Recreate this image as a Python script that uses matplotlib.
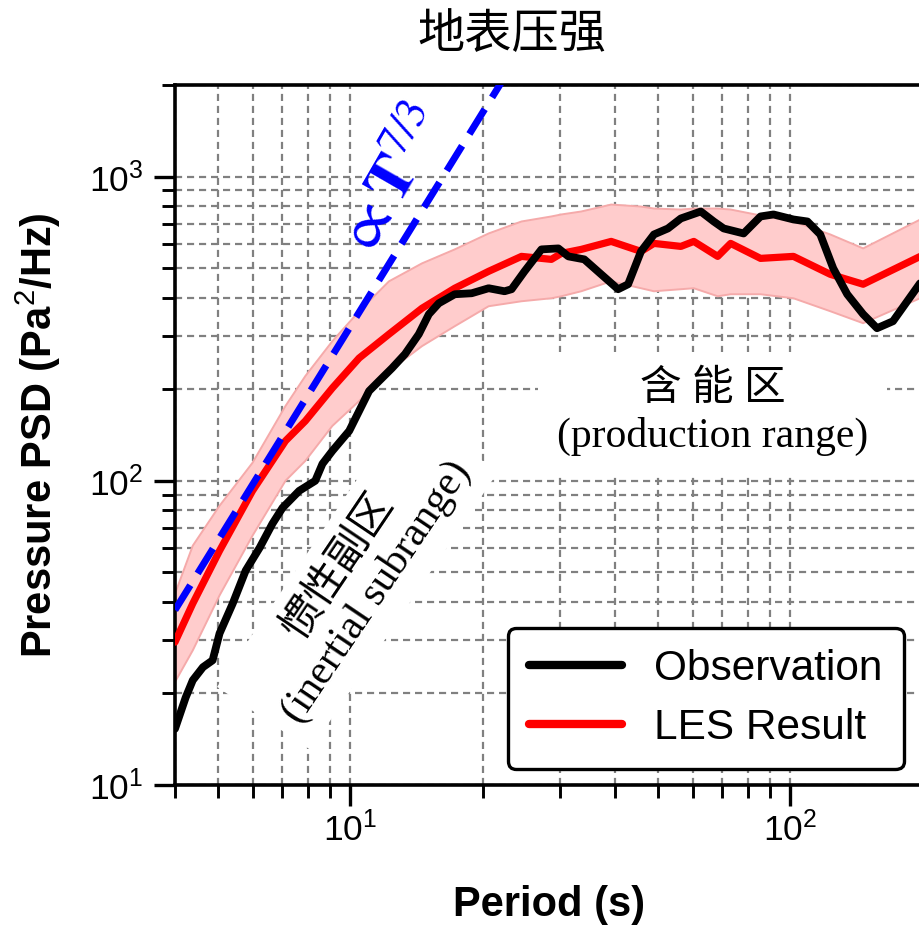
import numpy as np
import matplotlib
matplotlib.use("Agg")
import matplotlib.pyplot as plt
from matplotlib.ticker import FuncFormatter, NullFormatter, LogLocator

plt.rcParams['font.family'] = ['Liberation Sans', 'Noto Sans CJK SC', 'DejaVu Sans']
plt.rcParams['mathtext.fontset'] = 'custom'
plt.rcParams['mathtext.rm'] = 'Liberation Sans'
plt.rcParams['mathtext.it'] = 'Liberation Sans:italic'
plt.rcParams['mathtext.bf'] = 'Liberation Sans:bold'

# ---------------- data ----------------
obs_T = [4.0, 4.23, 4.39, 4.63, 4.87, 5.05, 5.41, 5.79, 6.23, 6.66, 7.02, 7.66, 8.33, 8.65,
         9.11, 9.95, 10.48, 11.04, 11.63, 12.45, 13.32, 14.32, 15.09, 15.90, 17.28, 18.88,
         20.63, 22.42, 23.26, 24.89, 27.19, 29.71, 31.30, 34.02, 37.17, 40.61, 42.79, 45.77,
         48.98, 52.69, 56.38, 62.57, 66.96, 70.54, 78.29, 85.53, 91.53, 101.6, 109.3, 116.9,
         125.1, 134.6, 146.3, 157.3, 171.0, 200.0]
obs_P = [15.3, 19.4, 22.1, 24.4, 25.7, 31.5, 39.5, 50.7, 60.3, 72.3, 81.5, 92.7, 100, 113.7,
         125.4, 145.9, 169.6, 197.3, 212.8, 234.7, 260.9, 303.4, 352.8, 383.4, 410.4, 413.5,
         429.5, 419.8, 426.3, 488.2, 576.3, 580.6, 546.6, 534.4, 477.2, 426.3, 442.7, 567.6,
         645.3, 675.2, 728.4, 767.8, 711.9, 675.2, 650.2, 739.5, 750.7, 722.8, 711.9, 645.3,
         499.4, 410.4, 352.8, 317.4, 334.6, 460]

les_T = [4.0, 4.39, 5.05, 6.00, 7.13, 7.91, 9.11, 10.48, 12.25, 14.56, 17.28, 20.63, 24.50,
         28.64, 30.17, 33.49, 39.16, 45.77, 48.98, 56.38, 60.33, 68.36, 73.15, 85.53, 101.6,
         123.2, 146.3, 200.0]
les_P = [29.5, 39.5, 58.9, 92.7, 135.3, 157.3, 201.8, 253.2, 303.4, 369.1, 429.5, 488.2, 546.6,
         534.4, 559.1, 576.3, 612.2, 567.6, 603.0, 589.5, 612.2, 546.6, 603.0, 538.4, 546.6,
         477.2, 442.7, 552]
les_hi = [42.5, 61.2, 82.8, 114.6, 176.2, 221.0, 287.7, 360.9, 452.6, 518.5, 576.3, 650.2, 711.9,
          739.5, 750.7, 767.8, 809.2, 797.1, 785.2, 779.3, 785.2, 785.2, 779.3, 745.0, 711.9,
          645.3, 580.6, 730]
les_lo = [21.8, 27.7, 42.0, 66.0, 100, 116.3, 151.5, 182.9, 229.5, 277.1, 322.2, 374.8, 389.2,
          398.1, 404.2, 419.8, 452.6, 429.5, 419.8, 426.3, 429.5, 404.2, 410.4, 410.4, 398.1,
          360.9, 329.6, 402]

ref_T = [4.0, 22.0]
ref_P = [37.6, 2030]

legend_labels = ['Observation', 'LES Result']

# ---------------- figure ----------------
fig = plt.figure(figsize=(9.2, 9.32), dpi=100)
ax = fig.add_axes([0.1902, 0.1577, 0.8130, 0.7511])
ax.set_xscale('log')
ax.set_yscale('log')
ax.set_xlim(4, 200)
ax.set_ylim(10, 2000)

ax.set_axisbelow(True)
ax.grid(True, which='both', color='#808080', ls=(0, (3.2, 2.2)), lw=1.6)

ax.fill_between(les_T, les_lo, les_hi, facecolor='#ffcccc', edgecolor='none', zorder=2)
ax.plot(les_T, les_hi, color='#f5aaaa', lw=1.4, zorder=2.1)
ax.plot(les_T, les_lo, color='#f5aaaa', lw=1.4, zorder=2.1)
l_les, = ax.plot(les_T, les_P, color='red', lw=5.2, zorder=3, solid_capstyle='round')
l_obs, = ax.plot(obs_T, obs_P, color='black', lw=5.6, zorder=4, solid_capstyle='round')
ax.plot(ref_T, ref_P, color='blue', lw=5.0, ls=(0, (4.2, 2.0)), zorder=5)

# annotations
ax.text(66.6, 167, '含 能 区\n(production range)', ha='center', va='center', fontsize=30,
        family=['Liberation Serif', 'Noto Sans CJK SC'], linespacing=1.25, zorder=1.5,
        bbox=dict(facecolor='white', edgecolor='none', boxstyle='square,pad=0.45'))
ax.text(10.4, 47.5, '惯性副区\n(inertial subrange)', ha='center', va='center', fontsize=30,
        rotation=56, rotation_mode='anchor',
        family=['Liberation Serif', 'Noto Sans CJK SC'], linespacing=1.2, zorder=1.5,
        bbox=dict(facecolor='white', edgecolor='none', boxstyle='square,pad=0.35'))
ax.text(12.6, 950, r'$\propto \mathbf{T}^{7/3}$', ha='center', va='center', fontsize=46,
        rotation=60, rotation_mode='anchor', color='blue', math_fontfamily='stix', zorder=6)

# axes styling
for s in ['left', 'bottom', 'top']:
    ax.spines[s].set_linewidth(2.6)
ax.spines['right'].set_visible(False)

ax.xaxis.set_major_locator(LogLocator(base=10))
ax.yaxis.set_major_locator(LogLocator(base=10))
fmt = FuncFormatter(lambda v, p: r'$\mathrm{10^{%d}}$' % int(round(np.log10(v))))
ax.xaxis.set_major_formatter(fmt)
ax.yaxis.set_major_formatter(fmt)
ax.xaxis.set_minor_formatter(NullFormatter())
ax.yaxis.set_minor_formatter(NullFormatter())
ax.tick_params(which='major', direction='out', length=15, width=2.4, labelsize=25.5,
               top=False, right=False)
ax.tick_params(axis='x', which='major', pad=4)
ax.tick_params(axis='y', which='major', pad=8)
ax.tick_params(which='minor', direction='out', length=9.5, width=2.1, top=False, right=False)

ax.set_xlabel('Period (s)', fontsize=30, fontweight='bold')
ax.xaxis.label.set_va('center')
ax.xaxis.set_label_coords(0.5, -0.171)
ax.set_ylabel('Pressure PSD (Pa$^2$/Hz)', fontsize=30, fontweight='bold')
ax.yaxis.label.set_va('center')
ax.yaxis.set_label_coords(-0.183, 0.5)

fig.text(512 / 920, 1 - 35 / 932, '地表压强', ha='center', va='center', fontsize=34,
         family=['Noto Sans CJK SC'])

leg = ax.legend([l_obs, l_les], legend_labels, loc='upper left',
                bbox_to_anchor=(508 / 920, 1 - 628 / 932), bbox_transform=fig.transFigure,
                borderaxespad=0, fontsize=30.5, handlelength=2.2, handletextpad=0.75,
                labelspacing=0.45, borderpad=0.5, frameon=True, fancybox=True,
                framealpha=1, edgecolor='black')
leg.get_frame().set_linewidth(2.4)
for h in leg.get_lines():
    h.set_linewidth(6.0)

fig.savefig('out.png', dpi=100)
